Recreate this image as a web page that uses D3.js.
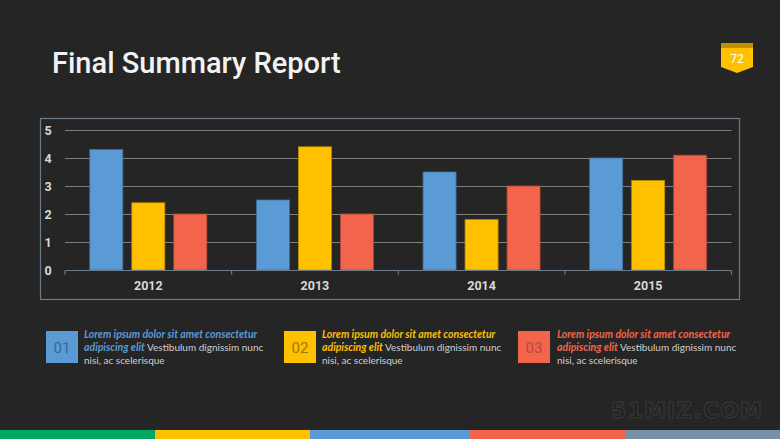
<!DOCTYPE html>
<html><head><meta charset="utf-8">
<script src="https://cdn.jsdelivr.net/npm/d3@7"></script>
<style>html,body{margin:0;padding:0;background:#252525;}svg{display:block;}</style>
</head><body>
<svg id="c" width="780" height="439"></svg>
<script>
const years = ["2012","2013","2014","2015"];
const seriesNames = ["s1","s2","s3"];
const s1 = [4.3, 2.5, 3.5, 4.0];
const s2 = [2.4, 4.4, 1.8, 3.2];
const s3 = [2.0, 2.0, 3.0, 4.1];
const yTicks = [0,1,2,3,4,5];
const colors = ["#5B9BD5","#FFC000","#F2654C"];
const strokeColors = ["#41719C","#BC8C00","#AE4A38"];
const legendNums = ["01","02","03"];
const legendNumColors = ["#34679A","#9E7A00","#B24B39"];
const legendHead1 = "Lorem ipsum dolor sit amet consectetur";
const legendHead2 = "adipiscing elit";
const legendBody2 = " Vestibulum dignissim nunc";
const legendBody3 = "nisi, ac scelerisque";
const stripeColors = ["#00A862","#FFC000","#5B9BD5","#F2654C","#7891A9"];

const svg = d3.select("#c");
svg.append("rect").attr("width",780).attr("height",439).attr("fill","#252525");

// title
svg.append("text").attr("x",52).attr("y",73).attr("fill","#F2F2F2")
  .style("font-family","Roboto").style("font-size","29px").style("font-weight",500)
  .text("Final Summary Report");

// badge
const b = svg.append("g");
b.append("path").attr("d","M721,43 H753 V67 L737,73 L721,67 Z").attr("fill","#FFC000");
b.append("rect").attr("x",721).attr("y",43).attr("width",32).attr("height",5).attr("fill","#BF9000");
b.append("text").attr("x",737).attr("y",63).attr("text-anchor","middle").attr("fill","#FFFFFF")
  .style("font-family","Roboto").style("font-size","12px").text("72");

// chart frame
svg.append("rect").attr("x",40.5).attr("y",118.5).attr("width",699).attr("height",181)
  .attr("fill","none").attr("stroke","#6E7B89").attr("stroke-width",1.2);

const x0 = d3.scaleBand().domain(years).range([65,731.5]).paddingInner(0).paddingOuter(0);
const bw = x0.bandwidth();
const x1 = d3.scaleBand().domain(seriesNames).range([bw/2-58.5, bw/2+58.5]).paddingInner(0.214).paddingOuter(0);
const y = d3.scaleLinear().domain([0,5]).range([270,130]);

// grid
svg.append("g").selectAll("line").data(yTicks.filter(d=>d>0)).join("line")
  .attr("x1",65).attr("x2",731.5).attr("y1",d=>Math.round(y(d))+0.5).attr("y2",d=>Math.round(y(d))+0.5)
  .attr("stroke","#7F7F7F").attr("stroke-width",1.2);

// y labels
svg.append("g").selectAll("text").data(yTicks).join("text")
  .attr("x",48).attr("y",d=>y(d)+4.5).attr("text-anchor","middle").attr("fill","#D9D9D9")
  .style("font-family","Roboto").style("font-size","12.5px").style("font-weight",700)
  .text(d=>d);

// bars
const data = [s1,s2,s3];
const g = svg.append("g");
years.forEach((yr,i)=>{
  seriesNames.forEach((s,j)=>{
    g.append("rect").attr("x",x0(yr)+x1(s)).attr("width",x1.bandwidth())
      .attr("y",y(data[j][i])).attr("height",y(0)-y(data[j][i]))
      .attr("fill",colors[j]).attr("stroke",strokeColors[j]).attr("stroke-width",0.8);
  });
});

// x axis
const xa = svg.append("g").attr("transform","translate(0,270.5)");
xa.append("line").attr("x1",65).attr("x2",731.5).attr("stroke","#6E7B89").attr("stroke-width",1.2);
const tickXs = years.map(d=>x0(d)).concat([x0.range()[1]]);
xa.selectAll("line.t").data(tickXs).join("line").attr("class","t")
  .attr("x1",d=>d).attr("x2",d=>d).attr("y1",0).attr("y2",4).attr("stroke","#6E7B89").attr("stroke-width",1.2);
xa.selectAll("text").data(years).join("text")
  .attr("x",d=>x0(d)+bw/2).attr("y",19.5).attr("text-anchor","middle").attr("fill","#D9D9D9")
  .style("font-family","Roboto").style("font-size","12.5px").style("font-weight",700).text(d=>d);

// legend
const legX = [46,284,518];
const legTX = [84,322,557];
const fs = "10.5px";
const fsBody = "10px";
legX.forEach((lx,i)=>{
  const lg = svg.append("g");
  lg.append("rect").attr("x",lx).attr("y",331).attr("width",32).attr("height",32).attr("fill",colors[i]);
  lg.append("text").attr("x",lx+16).attr("y",352.5).attr("text-anchor","middle").attr("fill",legendNumColors[i])
    .style("font-family","Roboto").style("font-size","15px").text(legendNums[i]);
  const tx = legTX[i];
  lg.append("text").attr("x",tx).attr("y",338).attr("fill",colors[i])
    .style("font-family","Lato").style("font-size",fs).style("font-weight",700).style("font-style","italic")
    .text(legendHead1);
  const t2 = lg.append("text").attr("x",tx).attr("y",351).style("font-family","Lato");
  t2.append("tspan").attr("fill",colors[i]).style("font-size",fs).style("font-weight",700).style("font-style","italic").text(legendHead2);
  t2.append("tspan").attr("fill","#D0D0D0").style("font-size",fsBody).text(legendBody2);
  lg.append("text").attr("x",tx).attr("y",364).attr("fill","#D0D0D0")
    .style("font-family","Lato").style("font-size",fsBody).text(legendBody3);
});

// watermark
svg.append("text").attr("x",611).attr("y",418).attr("fill","#222222").attr("stroke","#3A3A3A").attr("stroke-width",1)
  .style("font-family","DejaVu Sans").style("font-size","22px").style("font-weight",700)
  .attr("textLength",151).text("51MIZ.COM");

// bottom stripes
const stripeX = [0,155,310,470,625,780];
svg.append("g").selectAll("rect").data(stripeColors).join("rect")
  .attr("x",(d,i)=>stripeX[i]).attr("width",(d,i)=>stripeX[i+1]-stripeX[i])
  .attr("y",430).attr("height",9).attr("fill",d=>d);
</script>
</body></html>
